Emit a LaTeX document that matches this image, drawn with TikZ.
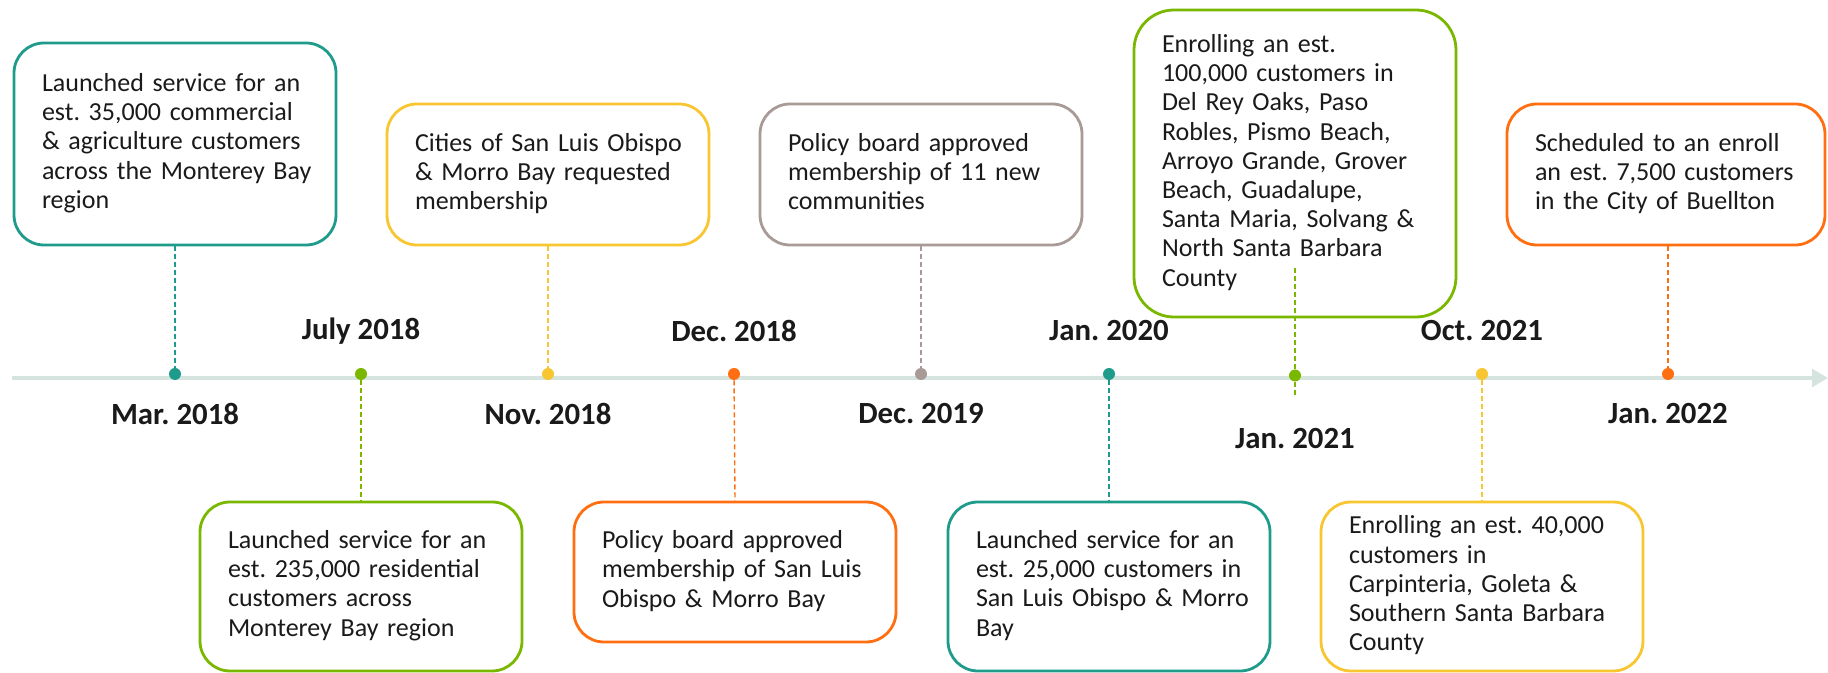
\documentclass[tikz,border=0pt]{standalone}
\usepackage{fontspec}
\setmainfont{Carlito}
\usetikzlibrary{arrows.meta}
\frenchspacing

\definecolor{evteal}{HTML}{1E9B8A}
\definecolor{evlime}{HTML}{7AB800}
\definecolor{evgold}{HTML}{F8C630}
\definecolor{evorange}{HTML}{FF6E10}
\definecolor{evtaupe}{HTML}{A89A96}
\definecolor{axisgray}{HTML}{D6E4DF}
\definecolor{inkdark}{HTML}{1A1A1A}

\newcommand\evtext[1]{\begin{tabular}{@{}l@{}}#1\end{tabular}}

\tikzset{
  evbox/.style={draw=#1, line width=1.4pt, rounded corners=15pt, fill=white,
    minimum width=161pt, text width=133pt, inner xsep=14pt, align=left,
    text=inkdark, font=\fontsize{13}{14.6}\selectfont},
  evdot/.style={circle, fill=#1, inner sep=0pt, minimum size=6pt},
  evdate/.style={font=\fontsize{15.4}{17}\selectfont\bfseries, text=inkdark},
  evlink/.style={draw=#1, line width=0.7pt, dash pattern=on 2.5pt off 1.5pt},
}

\begin{document}
\begin{tikzpicture}[x=0.5pt, y=-0.5pt]
            \useasboundingbox (0,0) rectangle (1828,673);

            % time axis
            \coordinate (axisL) at (12,378);
            \coordinate (axisR) at (1828,378);
            \draw[axisgray, line width=1.6pt, -{Triangle[length=8pt, width=9pt]}] (axisL) -- (axisR);

            % boxes above the axis
            \node[evbox=evteal, minimum height=101pt] (b1) at (175,144)
              {\evtext{Launched service for an\\ est. 35,000 commercial\\ \& agriculture customers\\ across the Monterey Bay\\ region}};
            \node[evbox=evgold, minimum height=70.5pt] (b2) at (548,174.5)
              {\evtext{Cities of San Luis Obispo\\ \& Morro Bay requested\\ membership}};
            \node[evbox=evtaupe, minimum height=70.5pt] (b3) at (921,174.5)
              {\evtext{Policy board approved\\ membership of 11 new\\ communities}};
            \node[evbox=evlime, minimum height=153.5pt, rounded corners=20pt] (b4) at (1295,163.5)
              {\evtext{Enrolling an est.\\ 100,000 customers in\\ Del Rey Oaks, Paso\\ Robles, Pismo Beach,\\ Arroyo Grande, Grover\\ Beach, Guadalupe,\\ Santa Maria, Solvang \&\\ North Santa Barbara\\ County}};
            \node[evbox=evorange, minimum height=70.5pt, minimum width=159pt, text width=131pt] (b5) at (1666,174.5)
              {\evtext{Scheduled to an enroll\\ an est. 7,500 customers\\ in the City of Buellton}};

            % boxes below the axis
            \node[evbox=evlime, minimum height=84.5pt] (b6) at (361,586.5)
              {\evtext{Launched service for an\\ est. 235,000 residential\\ customers across\\ Monterey Bay region}};
            \node[evbox=evorange, minimum height=70pt] (b7) at (735,572)
              {\evtext{Policy board approved\\ membership of San Luis\\ Obispo \& Morro Bay}};
            \node[evbox=evteal, minimum height=84.5pt] (b8) at (1109,586.5)
              {\evtext{Launched service for an\\ est. 25,000 customers in\\ San Luis Obispo \& Morro\\ Bay}};
            \node[evbox=evgold, minimum height=84.5pt] (b9) at (1482,586.5)
              {\evtext{Enrolling an est. 40,000\\ customers in\\ Carpinteria, Goleta \&\\ Southern Santa Barbara\\ County}};

            % dots on the axis
            \node[evdot=evteal] (d1) at (175,374) {};
            \node[evdot=evlime] (d2) at (361,374) {};
            \node[evdot=evgold] (d3) at (548,374) {};
            \node[evdot=evorange] (d4) at (734,374) {};
            \node[evdot=evtaupe] (d5) at (921,374) {};
            \node[evdot=evteal] (d6) at (1109,374) {};
            \node[evdot=evlime] (d7) at (1295,375.5) {};
            \node[evdot=evgold] (d8) at (1482,374) {};
            \node[evdot=evorange] (d9) at (1668,374) {};

            % dashed links
            \coordinate (k4top) at (1295,268);
            \coordinate (k4end) at (1295,396);
            \draw[evlink=evteal] (b1.south) -- (d1);
            \draw[evlink=evgold] (b2.south) -- (d3);
            \draw[evlink=evtaupe] (b3.south) -- (d5);
            \draw[evlink=evlime] (k4top) -- (d7) -- (k4end);
            \draw[evlink=evorange] (b5.south -| d9) -- (d9);
            \draw[evlink=evlime] (d2) -- (b6.north);
            \draw[evlink=evorange] (d4) -- (b7.north);
            \draw[evlink=evteal] (d6) -- (b8.north);
            \draw[evlink=evgold] (d8) -- (b9.north);

            % dates
            \node[evdate] (l1) at (175,414) {Mar. 2018};
            \node[evdate] (l2) at (361,331) {July 2018};
            \node[evdate] (l3) at (548,414) {Nov. 2018};
            \node[evdate] (l4) at (734,331) {Dec. 2018};
            \node[evdate] (l5) at (921,414) {Dec. 2019};
            \node[evdate] (l6) at (1109,331) {Jan. 2020};
            \node[evdate] (l7) at (1295,438.5) {Jan. 2021};
            \node[evdate] (l8) at (1482,331) {Oct. 2021};
            \node[evdate] (l9) at (1668,414) {Jan. 2022};
        \end{tikzpicture}
\end{document}
